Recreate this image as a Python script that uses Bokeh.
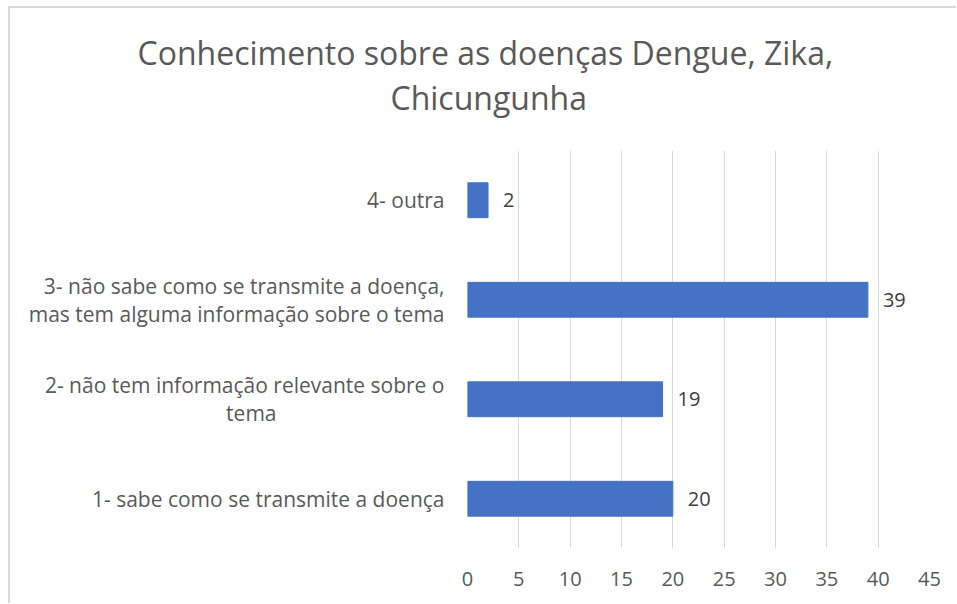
from bokeh.plotting import figure
from bokeh.models import ColumnDataSource, LabelSet, FixedTicker, Range1d, Title
from bokeh.core.properties import value
from bokeh.embed import file_html
from bokeh.resources import INLINE

PAD = "\u2003" * 8
categories = [
    "1- sabe como se transmite a doença",
    "2- não tem informação relevante sobre o\ntema" + PAD,
    "3- não sabe como se transmite a doença,\nmas tem alguma informação sobre o tema",
    "4- outra",
]
values = [20, 19, 39, 2]
x_ticks = [0, 5, 10, 15, 20, 25, 30, 35, 40, 45]
title_lines = ["Conhecimento sobre as doenças Dengue, Zika,", "Chicungunha"]

FONT = "Open Sans"
TXT = "#595959"

src = ColumnDataSource(dict(cat=categories, val=values, lab=[str(v) for v in values]))

p = figure(width=948, height=597, y_range=categories, x_range=Range1d(0, 45),
           output_backend="svg", toolbar_location=None,
           min_border_left=457, min_border_right=29, min_border_top=142, min_border_bottom=57)
p.styles = {"margin-left": "8px", "margin-top": "6px",
            "border-left": "2px solid #d9d9d9", "border-top": "2px solid #d9d9d9"}
p.outline_line_color = None
p.background_fill_color = "white"
p.border_fill_color = "white"

p.hbar(y="cat", right="val", height=0.35, source=src, color="#4472C4")

p.add_layout(LabelSet(x="val", y="cat", text="lab", source=src, x_offset=15, y_offset=0,
                      text_baseline="middle", text_font=value(FONT), text_font_size=value("20px"),
                      text_color="#404040"))

p.xaxis.ticker = FixedTicker(ticks=x_ticks)
p.xaxis.axis_line_color = None
p.xaxis.major_tick_line_color = None
p.xaxis.minor_tick_line_color = None
p.xaxis.major_label_text_font = FONT
p.xaxis.major_label_text_font_size = "20px"
p.xaxis.major_label_text_color = TXT
p.xaxis.major_label_standoff = 17

p.yaxis.axis_line_color = None
p.yaxis.major_tick_line_color = None
p.yaxis.major_label_text_font = FONT
p.yaxis.major_label_text_font_size = "21px"
p.yaxis.major_label_text_color = TXT
p.yaxis.major_label_text_line_height = 1.0
p.yaxis.major_label_standoff = 17

p.xgrid.grid_line_color = "#d9d9d9"
p.xgrid.grid_line_width = 1
p.ygrid.grid_line_color = None

# titles stack upward from the frame: spacer first, then lower line, then upper line
p.add_layout(Title(text=" ", standoff=0, text_font_size="27px"), "above")
p.add_layout(Title(text=title_lines[1], align="left", offset=-77, standoff=0,
                   text_font=FONT, text_font_size="32px", text_color=TXT,
                   text_font_style="normal"), "above")
p.add_layout(Title(text=title_lines[0], align="left", offset=-330, standoff=0,
                   text_font=FONT, text_font_size="32px", text_color=TXT,
                   text_font_style="normal"), "above")

open("out.html", "w").write(file_html(p, INLINE))
